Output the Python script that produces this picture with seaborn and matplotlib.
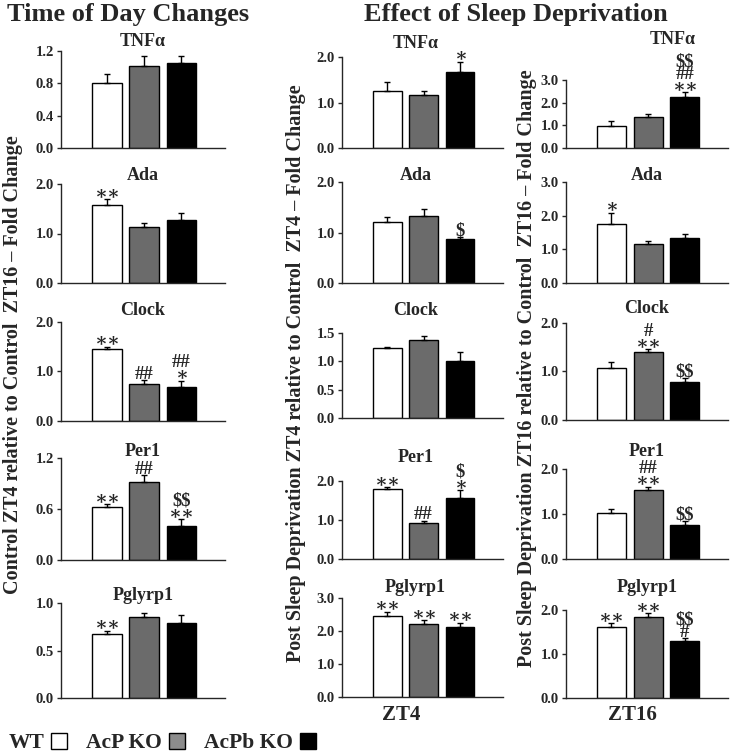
import matplotlib
matplotlib.use("Agg")
import matplotlib.pyplot as plt
from matplotlib.patches import Patch
import seaborn as sns

# ---- data ---------------------------------------------------------------
genotypes = ["WT", "AcP KO", "AcPb KO"]
genes = ["TNFα", "Ada", "Clock", "Per1", "Pglyrp1"]

# Time of day changes (control ZT4 relative to control ZT16)
tod_mean = [[0.80, 1.02, 1.05], [1.58, 1.14, 1.27], [1.45, 0.75, 0.69],
            [0.62, 0.92, 0.40], [0.67, 0.85, 0.79]]
tod_sem = [[0.12, 0.12, 0.09], [0.11, 0.07, 0.14], [0.05, 0.08, 0.12],
           [0.035, 0.08, 0.08], [0.04, 0.04, 0.08]]
tod_marks = [["", "", ""], ["**", "", ""], ["**", "##", "*|##"],
             ["**", "##", "**|$$"], ["**", "", ""]]
tod_ticks = [[0, 0.4, 0.8, 1.2], [0, 1, 2], [0, 1, 2], [0, 0.6, 1.2], [0, 0.5, 1.0]]

# Sleep deprivation at ZT4
zt4_mean = [[1.25, 1.16, 1.67], [1.21, 1.33, 0.87], [1.24, 1.37, 1.01],
            [1.80, 0.92, 1.56], [2.45, 2.22, 2.11]]
zt4_sem = [[0.19, 0.10, 0.22], [0.10, 0.14, 0.05], [0.02, 0.08, 0.15],
           [0.04, 0.06, 0.20], [0.13, 0.10, 0.14]]
zt4_marks = [["", "", "*"], ["", "", "$"], ["", "", ""],
             ["**", "##", "*|$"], ["**", "**", "**"]]
zt4_ticks = [[0, 1, 2], [0, 1, 2], [0, 0.5, 1.0, 1.5], [0, 1, 2], [0, 1, 2, 3]]

# Sleep deprivation at ZT16
zt16_mean = [[0.99, 1.38, 2.23], [1.76, 1.16, 1.34], [1.07, 1.40, 0.79],
             [1.02, 1.54, 0.76], [1.62, 1.83, 1.30]]
zt16_sem = [[0.20, 0.10, 0.22], [0.32, 0.10, 0.11], [0.13, 0.06, 0.08],
            [0.09, 0.07, 0.08], [0.08, 0.10, 0.06]]
zt16_marks = [["", "", "**|##|$$"], ["*", "", ""], ["", "**|#", "$$"],
              ["", "**|##", "$$"], ["**", "**", "#|$$"]]
zt16_ticks = [[0, 1, 2, 3], [0, 1, 2, 3], [0, 1, 2], [0, 1, 2], [0, 1, 2]]

ylabels = ["Control ZT4 relative to Control  ZT16 – Fold Change",
           "Post Sleep Deprivation ZT4 relative to Control  ZT4 – Fold Change",
           "Post Sleep Deprivation ZT16 relative to Control  ZT16 – Fold Change"]

# ---- layout (pixels) ----------------------------------------------------
W, H = 733, 753
col_x = [(61, 225), (342, 503), (566, 728)]
row_y = [[(51, 148), (184, 283), (322, 421), (458, 560), (603, 698)],
         [(57, 148), (182, 283), (333, 418), (481, 559), (598, 697)],
         [(80, 148), (182, 283), (323, 420), (469, 559), (610, 698)]]
title_y = [[42, 175, 310, 451, 595],
           [43, 176, 310, 457, 587],
           [40, 176, 308, 452, 587]]
title_dx = [0, -7, 0]
ylabel_pos = [(13, 365), (296, 373), (527, 368)]
bar_colors = ["white", "#6b6b6b", "black"]
legend_colors = ["white", "#8c8c8c", "black"]

sns.set_style("ticks")
plt.rcParams["font.family"] = ["Liberation Serif", "DejaVu Serif"]
plt.rcParams["font.weight"] = "bold"

fig = plt.figure(figsize=(W / 100, H / 100), dpi=100)

columns = [(tod_mean, tod_sem, tod_marks, tod_ticks),
           (zt4_mean, zt4_sem, zt4_marks, zt4_ticks),
           (zt16_mean, zt16_sem, zt16_marks, zt16_ticks)]

for c, (means, sems, marks, ticks) in enumerate(columns):
    x0, x1 = col_x[c]
    for r, gene in enumerate(genes):
        top, bottom = row_y[c][r]
        ax = fig.add_axes([x0 / W, 1 - bottom / H, (x1 - x0) / W, (bottom - top) / H])
        sns.barplot(x=genotypes, y=means[r], hue=genotypes, palette=bar_colors,
                    width=0.79, edgecolor="black", linewidth=1, errorbar=None,
                    legend=False, ax=ax)
        ax.errorbar(range(3), means[r], yerr=[[0, 0, 0], sems[r]], fmt="none",
                    ecolor="black", elinewidth=1, capsize=2.5, capthick=1)
        ax.set_xlim(-1.24, 3.18)
        ax.set_ylim(0, ticks[r][-1])
        ax.set_yticks(ticks[r])
        ax.set_yticklabels([f"{t:.1f}" for t in ticks[r]], fontsize=10.5, fontweight="bold")
        ax.set_xticks([])
        ax.set_xlabel("")
        ax.set_ylabel("")
        ax.tick_params(axis="y", direction="out", length=3, width=1, pad=2)
        sns.despine(ax=ax)
        for s in ("left", "bottom"):
            ax.spines[s].set_linewidth(1)
        # significance marks, stacked upwards from the error bar
        for i, m in enumerate(marks[r]):
            if not m:
                continue
            ytop = means[r][i] + sems[r][i]
            txt = "\n".join(reversed(m.split("|"))).replace("*", "∗")
            ax.annotate(txt, (i, ytop), xytext=(0, 1.0),
                        textcoords="offset points", ha="center", va="baseline",
                        fontsize=13.5, fontweight="bold", linespacing=0.62,
                        multialignment="center", annotation_clip=False,
                        parse_math=False)
        xt = (x0 + x1) / 2 + title_dx[c] + (26 if (c == 2 and r == 0) else 0)
        fig.text(xt / W, 1 - title_y[c][r] / H, gene, ha="center", va="center",
                 fontsize=13, fontweight="bold")
    fig.text(ylabel_pos[c][0] / W, 1 - ylabel_pos[c][1] / H, ylabels[c],
             rotation=90, ha="center", va="center", fontsize=14.5, fontweight="bold")

fig.text(128 / W, 1 - 15 / H, "Time of Day Changes", ha="center", va="center",
         fontsize=19, fontweight="bold")
fig.text(516 / W, 1 - 15 / H, "Effect of Sleep Deprivation", ha="center", va="center",
         fontsize=19, fontweight="bold")
fig.text(401 / W, 1 - 715 / H, "ZT4", ha="center", va="center", fontsize=15, fontweight="bold")
fig.text(632 / W, 1 - 715 / H, "ZT16", ha="center", va="center", fontsize=15, fontweight="bold")

handles = [Patch(facecolor=col, edgecolor="black", linewidth=1, label=g)
           for g, col in zip(genotypes, legend_colors)]
fig.legend(handles=handles, loc="lower left", bbox_to_anchor=(0.0, -0.012), ncol=3,
           markerfirst=False, frameon=False, handlelength=0.75, handleheight=0.75,
           handletextpad=0.3, columnspacing=0.9, borderaxespad=0.0,
           prop={"size": 15.5, "weight": "bold"})

fig.savefig("out.png", dpi=100)
